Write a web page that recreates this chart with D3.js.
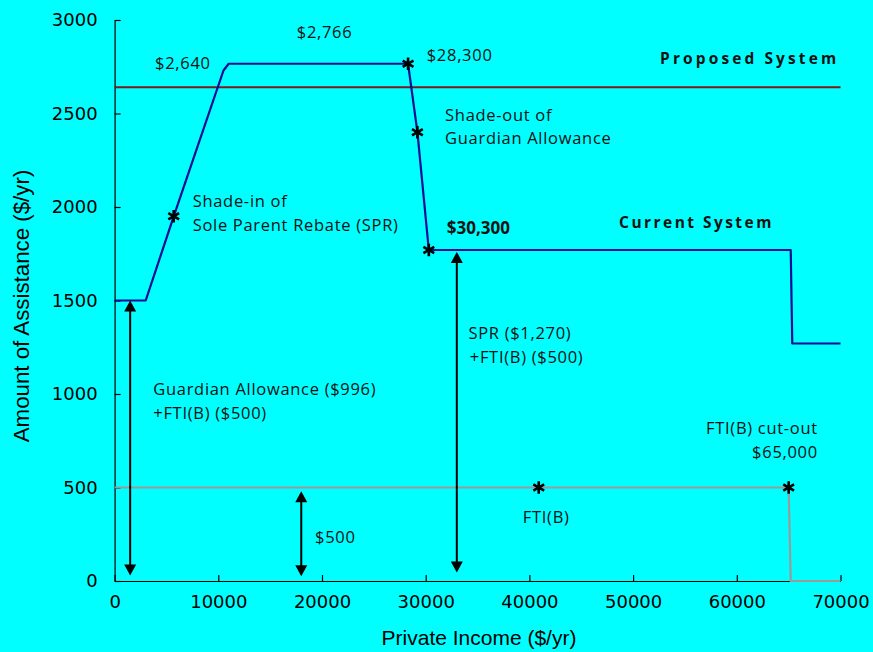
<!DOCTYPE html>
<html>
<head>
<meta charset="utf-8">
<script src="https://cdn.jsdelivr.net/npm/d3@7"></script>
<style>
  html, body { margin: 0; padding: 0; background: #00FFFF; }
  svg { display: block; }
</style>
</head>
<body>
<svg id="chart" width="873" height="652"></svg>
<script>
// Assistance schedules by private income ($/yr)
const currentIncome = [0, 3000, 5700, 10500, 11000, 28300, 29200, 30300, 65200, 65350, 70000];
const currentAmount = [1500, 1500, 1950, 2730, 2766, 2766, 2400, 1770, 1770, 1270, 1270];

const proposedIncome = [0, 70000];
const proposedAmount = [2640, 2640];

const ftiIncome = [0, 65000, 65200, 70000];
const ftiAmount = [500, 500, 0, 0];

// Starred points of interest
const starIncome = [5700, 28300, 29200, 30300, 40900, 65000];
const starAmount = [1950, 2766, 2400, 1770, 500, 500];

// Double-headed arrows: income, top amount, bottom amount
const arrowIncome = [1500, 18000, 33000];
const arrowTop = [1500, 480, 1760];
const arrowBottom = [30, 25, 45];

// Axis ticks
const xTicks = [0, 10000, 20000, 30000, 40000, 50000, 60000, 70000];
const yTicks = [0, 500, 1000, 1500, 2000, 2500, 3000];

// Annotation texts anchored in data units
const noteText = ["$2,766", "$2,640", "$28,300", "Proposed System", "Shade-out of", "Guardian Allowance",
  "Shade-in of", "Sole Parent Rebate (SPR)", "$30,300", "Current System", "SPR ($1,270)", "+FTI(B) ($500)",
  "Guardian Allowance ($996)", "+FTI(B) ($500)", "$500", "FTI(B)", "FTI(B) cut-out", "$65,000"];
const noteIncome = [20250, 3900, 30100, 69880, 31870, 31870, 7530, 7530, 32035, 48650, 34120, 34250,
  3730, 3730, 19330, 39365, 67820, 67820];
const noteAmount = [2902, 2738, 2781, 2765, 2461, 2335, 2002, 1874, 1856, 1886, 1293, 1164,
  995, 865, 202, 312, 784, 656];

const svg = d3.select("#chart");
const plotLeft = 114.6, plotRight = 840.5, plotTop = 20, plotBottom = 581;

const x = d3.scaleLinear().domain([0, 70000]).range([plotLeft, plotRight]);
const y = d3.scaleLinear().domain([0, 3000]).range([plotBottom, plotTop]);

const tickFont = "'DejaVu Sans', Verdana, sans-serif";
const noteFont = "'Open Sans', 'Noto Sans', sans-serif";
const titleFont = "'Liberation Sans', Arial, sans-serif";

// Axes
const xAxis = d3.axisBottom(x).tickValues(xTicks).tickSizeInner(-6).tickSizeOuter(0).tickPadding(14).tickFormat(d3.format("d"));
const yAxis = d3.axisLeft(y).tickValues(yTicks).tickSizeInner(-6).tickSizeOuter(0).tickPadding(17).tickFormat(d3.format("d"));

const gx = svg.append("g").attr("transform", `translate(0,${plotBottom})`).call(xAxis);
const gy = svg.append("g").attr("transform", `translate(${plotLeft},0)`).call(yAxis);
[gx, gy].forEach(g => {
  g.selectAll("path, line").attr("stroke", "#000").attr("stroke-width", 1.2);
  g.selectAll("text").attr("fill", "#000").style("font-family", tickFont).style("font-size", "18px");
});

// Axis titles
svg.append("text")
  .attr("x", 479).attr("y", 645)
  .attr("text-anchor", "middle")
  .style("font-family", titleFont).style("font-size", "21px")
  .text("Private Income ($/yr)");
svg.append("text")
  .attr("transform", "translate(29,306) rotate(-90)")
  .attr("text-anchor", "middle")
  .style("font-family", titleFont).style("font-size", "22.3px")
  .text("Amount of Assistance ($/yr)");

const line = d3.line().x(d => x(d[0])).y(d => y(d[1]));

// Proposed system level
svg.append("path")
  .datum(d3.zip(proposedIncome, proposedAmount))
  .attr("d", line).attr("fill", "none")
  .attr("stroke", "#7a1a1a").attr("stroke-width", 2);

// FTI(B)
svg.append("path")
  .datum(d3.zip(ftiIncome, ftiAmount))
  .attr("d", line).attr("fill", "none")
  .attr("stroke", "#9a9a9a").attr("stroke-width", 2.2);

// Current system
svg.append("path")
  .datum(d3.zip(currentIncome, currentAmount))
  .attr("d", line).attr("fill", "none")
  .attr("stroke", "#0c0c96").attr("stroke-width", 2.2)
  .attr("stroke-linejoin", "round");

// Asterisk markers
const star = d3.symbol().type(d3.symbolAsterisk).size(110);
svg.append("g").selectAll("path")
  .data(d3.zip(starIncome, starAmount))
  .join("path")
  .attr("transform", d => `translate(${x(d[0])},${y(d[1])})`)
  .attr("d", star)
  .attr("fill", "none").attr("stroke", "#000").attr("stroke-width", 2.6);

// Double-headed arrows
const head = 11, halfW = 6;
const arrows = svg.append("g");
d3.zip(arrowIncome, arrowTop, arrowBottom).forEach(([inc, t, b]) => {
  const ax = x(inc), ty = y(t), by = y(b);
  arrows.append("line")
    .attr("x1", ax).attr("x2", ax).attr("y1", ty + head - 1).attr("y2", by - head + 1)
    .attr("stroke", "#000").attr("stroke-width", 2);
  arrows.append("path")
    .attr("d", `M${ax},${ty} L${ax - halfW},${ty + head} L${ax + halfW},${ty + head} Z`)
    .attr("fill", "#000");
  arrows.append("path")
    .attr("d", `M${ax},${by} L${ax - halfW},${by - head} L${ax + halfW},${by - head} Z`)
    .attr("fill", "#000");
});

// Annotations
const noteSize = { "Proposed System": "15.5px", "Current System": "15.5px", "$30,300": "17px" };
const noteSpacing = { "Proposed System": "3.1px", "Current System": "2.45px", "$30,300": "0px" };
const boldNotes = new Set(["Proposed System", "Current System", "$30,300"]);
const endNotes = new Set([3, 16, 17]);
const midNotes = new Set([0]);
svg.append("g").selectAll("text")
  .data(noteText)
  .join("text")
  .attr("x", (d, i) => x(noteIncome[i]))
  .attr("y", (d, i) => y(noteAmount[i]))
  .attr("text-anchor", (d, i) => endNotes.has(i) ? "end" : midNotes.has(i) ? "middle" : "start")
  .attr("fill", "#111")
  .style("font-family", noteFont)
  .style("font-size", d => noteSize[d] || "16.5px")
  .style("font-weight", d => boldNotes.has(d) ? "700" : "400")
  .style("letter-spacing", d => noteSpacing[d] || "0.7px")
  .text(d => d);
</script>
</body>
</html>
